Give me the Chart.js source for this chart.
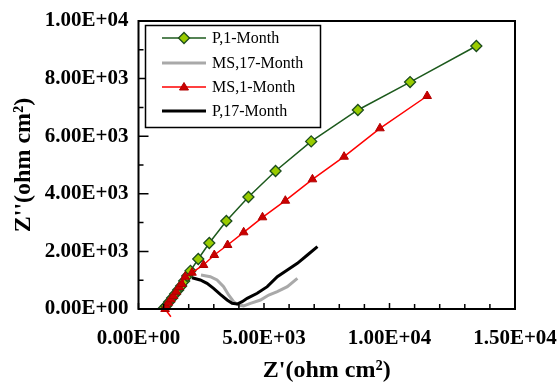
<!DOCTYPE html>
<html>
<head>
<meta charset="utf-8">
<script src="https://cdn.jsdelivr.net/npm/chart.js@4/dist/chart.umd.min.js"></script>
<style>
  html, body { margin: 0; padding: 0; background: #fff; }
  #wrap { position: relative; width: 558px; height: 385px; }
</style>
</head>
<body>
<div id="wrap"><canvas id="c" width="558" height="385"></canvas></div>
<script>
// Nyquist data: [Z', Z''] pairs, ohm cm2
const p1Month = [
  [980, 0], [1100, 104], [1220, 243], [1340, 382], [1460, 521], [1580, 660],
  [1700, 799], [1820, 972], [1940, 1146], [2070, 1325], [2380, 1736],
  [2820, 2292], [3500, 3056], [4380, 3889], [5460, 4792], [6880, 5820],
  [8740, 6910], [10820, 7880], [13460, 9132]
];
const ms17Month = [
  [2490, 1180], [2860, 1122], [3130, 1007], [3390, 775], [3590, 486],
  [3790, 255], [3990, 139], [4190, 110], [4460, 198], [4860, 312],
  [5190, 486], [5530, 601], [5930, 775], [6330, 1066]
];
const ms1Month = [
  [1290, -270], [1060, 0], [1100, 104], [1192, 219], [1288, 337], [1392, 451],
  [1500, 601], [1620, 764], [1728, 868], [1860, 1121], [2130, 1260],
  [2590, 1528], [3020, 1875], [3550, 2222], [4190, 2663], [4940, 3184],
  [5850, 3760], [6930, 4503], [8190, 5288], [9620, 6274], [11500, 7396]
];
const p17Month = [
  [2130, 1087], [2460, 1007], [2730, 892], [2990, 719], [3260, 510],
  [3530, 312], [3730, 198], [3930, 174], [4130, 255], [4330, 371],
  [4730, 545], [5130, 775], [5530, 1122], [5930, 1354], [6330, 1586],
  [6730, 1875], [7130, 2163]
];

const seriesNames = ['P,1-Month', 'MS,17-Month', 'MS,1-Month', 'P,17-Month'];
const xTicks = [0, 5000, 10000, 15000];
const yTicks = [0, 2000, 4000, 6000, 8000, 10000];

const SERIF = '"Liberation Serif", "Times New Roman", serif';

// 1.00E+04 style labels
function sci(v) {
  const parts = Number(v).toExponential(2).split('e');
  const n = parseInt(parts[1], 10);
  return parts[0] + 'E' + (n < 0 ? '-' : '+') + String(Math.abs(n)).padStart(2, '0');
}

const toPts = arr => arr.map(p => ({ x: p[0], y: p[1] }));

const datasets = [
  {
    label: seriesNames[0], data: toPts(p1Month), order: 1,
    borderColor: '#1d5a1d', borderWidth: 1.5,
    pointStyle: 'rectRot', pointRadius: 5.5,
    pointBackgroundColor: '#99cc00', pointBorderColor: '#1d4d1d', pointBorderWidth: 1.3
  },
  {
    label: seriesNames[1], data: toPts(ms17Month), order: 3,
    borderColor: '#a9a9a9', borderWidth: 3, pointRadius: 0
  },
  {
    label: seriesNames[2], data: toPts(ms1Month), order: 0,
    borderColor: '#ff0000', borderWidth: 1.5, clip: false,
    pointStyle: 'triangle', pointRadius: ctx => (ctx.dataIndex === 0 ? 0 : 5),
    pointBackgroundColor: '#cc0000', pointBorderColor: '#b00000', pointBorderWidth: 1
  },
  {
    label: seriesNames[3], data: toPts(p17Month), order: 2,
    borderColor: '#000000', borderWidth: 3, pointRadius: 0
  }
];

// frame, inward tick marks and the boxed legend
const framePlugin = {
  id: 'frame',
  afterDraw(chart) {
    const { ctx, chartArea: a, scales } = chart;
    ctx.save();
    ctx.strokeStyle = '#000';
    ctx.lineWidth = 2;
    ctx.strokeRect(a.left, a.top, a.right - a.left, a.bottom - a.top);

    ctx.lineWidth = 1.5;
    ctx.beginPath();
    for (let v = 0; v <= 15000; v += 1000) {
      const px = scales.x.getPixelForValue(v);
      const len = v % 5000 === 0 ? 6 : 5;
      ctx.moveTo(px, a.bottom);
      ctx.lineTo(px, a.bottom - len);
    }
    for (let v = 0; v <= 10000; v += 1000) {
      const py = scales.y.getPixelForValue(v);
      const len = v % 2000 === 0 ? 10 : 5;
      ctx.moveTo(a.left, py);
      ctx.lineTo(a.left + len, py);
    }
    ctx.stroke();

    // legend
    const lx = 145.5, ly = 25.5, lw = 175, lh = 102;
    ctx.fillStyle = '#fff';
    ctx.fillRect(lx, ly, lw, lh);
    ctx.lineWidth = 1.5;
    ctx.strokeStyle = '#000';
    ctx.strokeRect(lx, ly, lw, lh);
    const rows = [38, 63, 87, 111];
    rows.forEach((y, di) => {
      const ds = chart.data.datasets[di];
      ctx.strokeStyle = ds.borderColor;
      ctx.lineWidth = ds.borderWidth;
      ctx.beginPath();
      ctx.moveTo(162, y);
      ctx.lineTo(206, y);
      ctx.stroke();
      if (ds.pointStyle) {
        ctx.fillStyle = ds.pointBackgroundColor;
        ctx.strokeStyle = ds.pointBorderColor;
        ctx.lineWidth = ds.pointBorderWidth;
        ctx.beginPath();
        if (ds.pointStyle === 'rectRot') {
          ctx.moveTo(184, y - 5.5); ctx.lineTo(189.5, y); ctx.lineTo(184, y + 5.5); ctx.lineTo(178.5, y);
        } else {
          ctx.moveTo(184, y - 4.5); ctx.lineTo(188.5, y + 3); ctx.lineTo(179.5, y + 3);
        }
        ctx.closePath();
        ctx.fill();
        ctx.stroke();
      }
      ctx.fillStyle = '#000';
      ctx.font = '16px ' + SERIF;
      ctx.textBaseline = 'middle';
      ctx.textAlign = 'left';
      ctx.fillText(ds.label, 212, y + 1);
    });
    ctx.restore();
  }
};

new Chart(document.getElementById('c'), {
  type: 'scatter',
  data: { datasets: datasets.map(d => Object.assign({ showLine: true, tension: 0 }, d)) },
  options: {
    responsive: false,
    animation: false,
    events: [],
    layout: { padding: { left: 0, top: 21, right: 43, bottom: 0 } },
    plugins: { legend: { display: false }, tooltip: { enabled: false } },
    scales: {
      x: {
        type: 'linear', min: 0, max: 15000,
        afterBuildTicks: s => { s.ticks = xTicks.map(v => ({ value: v })); },
        afterFit: s => { s.height = 76; s.paddingLeft = 0; s.paddingRight = 0; },
        grid: { display: false, drawTicks: false },
        border: { display: false },
        ticks: {
          callback: v => sci(v), color: '#000', padding: 17, maxRotation: 0,
          font: { family: SERIF, size: 21, weight: 'bold' }
        },
        title: {
          display: true, text: "Z'(ohm cm²)", color: '#000',
          font: { family: SERIF, size: 24, weight: 'bold' },
          padding: { top: 0, bottom: 0 }
        }
      },
      y: {
        type: 'linear', min: 0, max: 10000,
        afterBuildTicks: s => { s.ticks = yTicks.map(v => ({ value: v })); },
        afterFit: s => { s.width = 138.5; s.paddingTop = 0; s.paddingBottom = 0; },
        grid: { display: false, drawTicks: false },
        border: { display: false },
        ticks: {
          callback: v => sci(v), color: '#000', padding: 10,
          font: { family: SERIF, size: 21, weight: 'bold' }
        },
        title: {
          display: true, text: "Z''(ohm cm²)", color: '#000',
          font: { family: SERIF, size: 24, weight: 'bold' },
          padding: { top: 9, bottom: 0 }
        }
      }
    }
  },
  plugins: [framePlugin]
});
</script>
</body>
</html>
